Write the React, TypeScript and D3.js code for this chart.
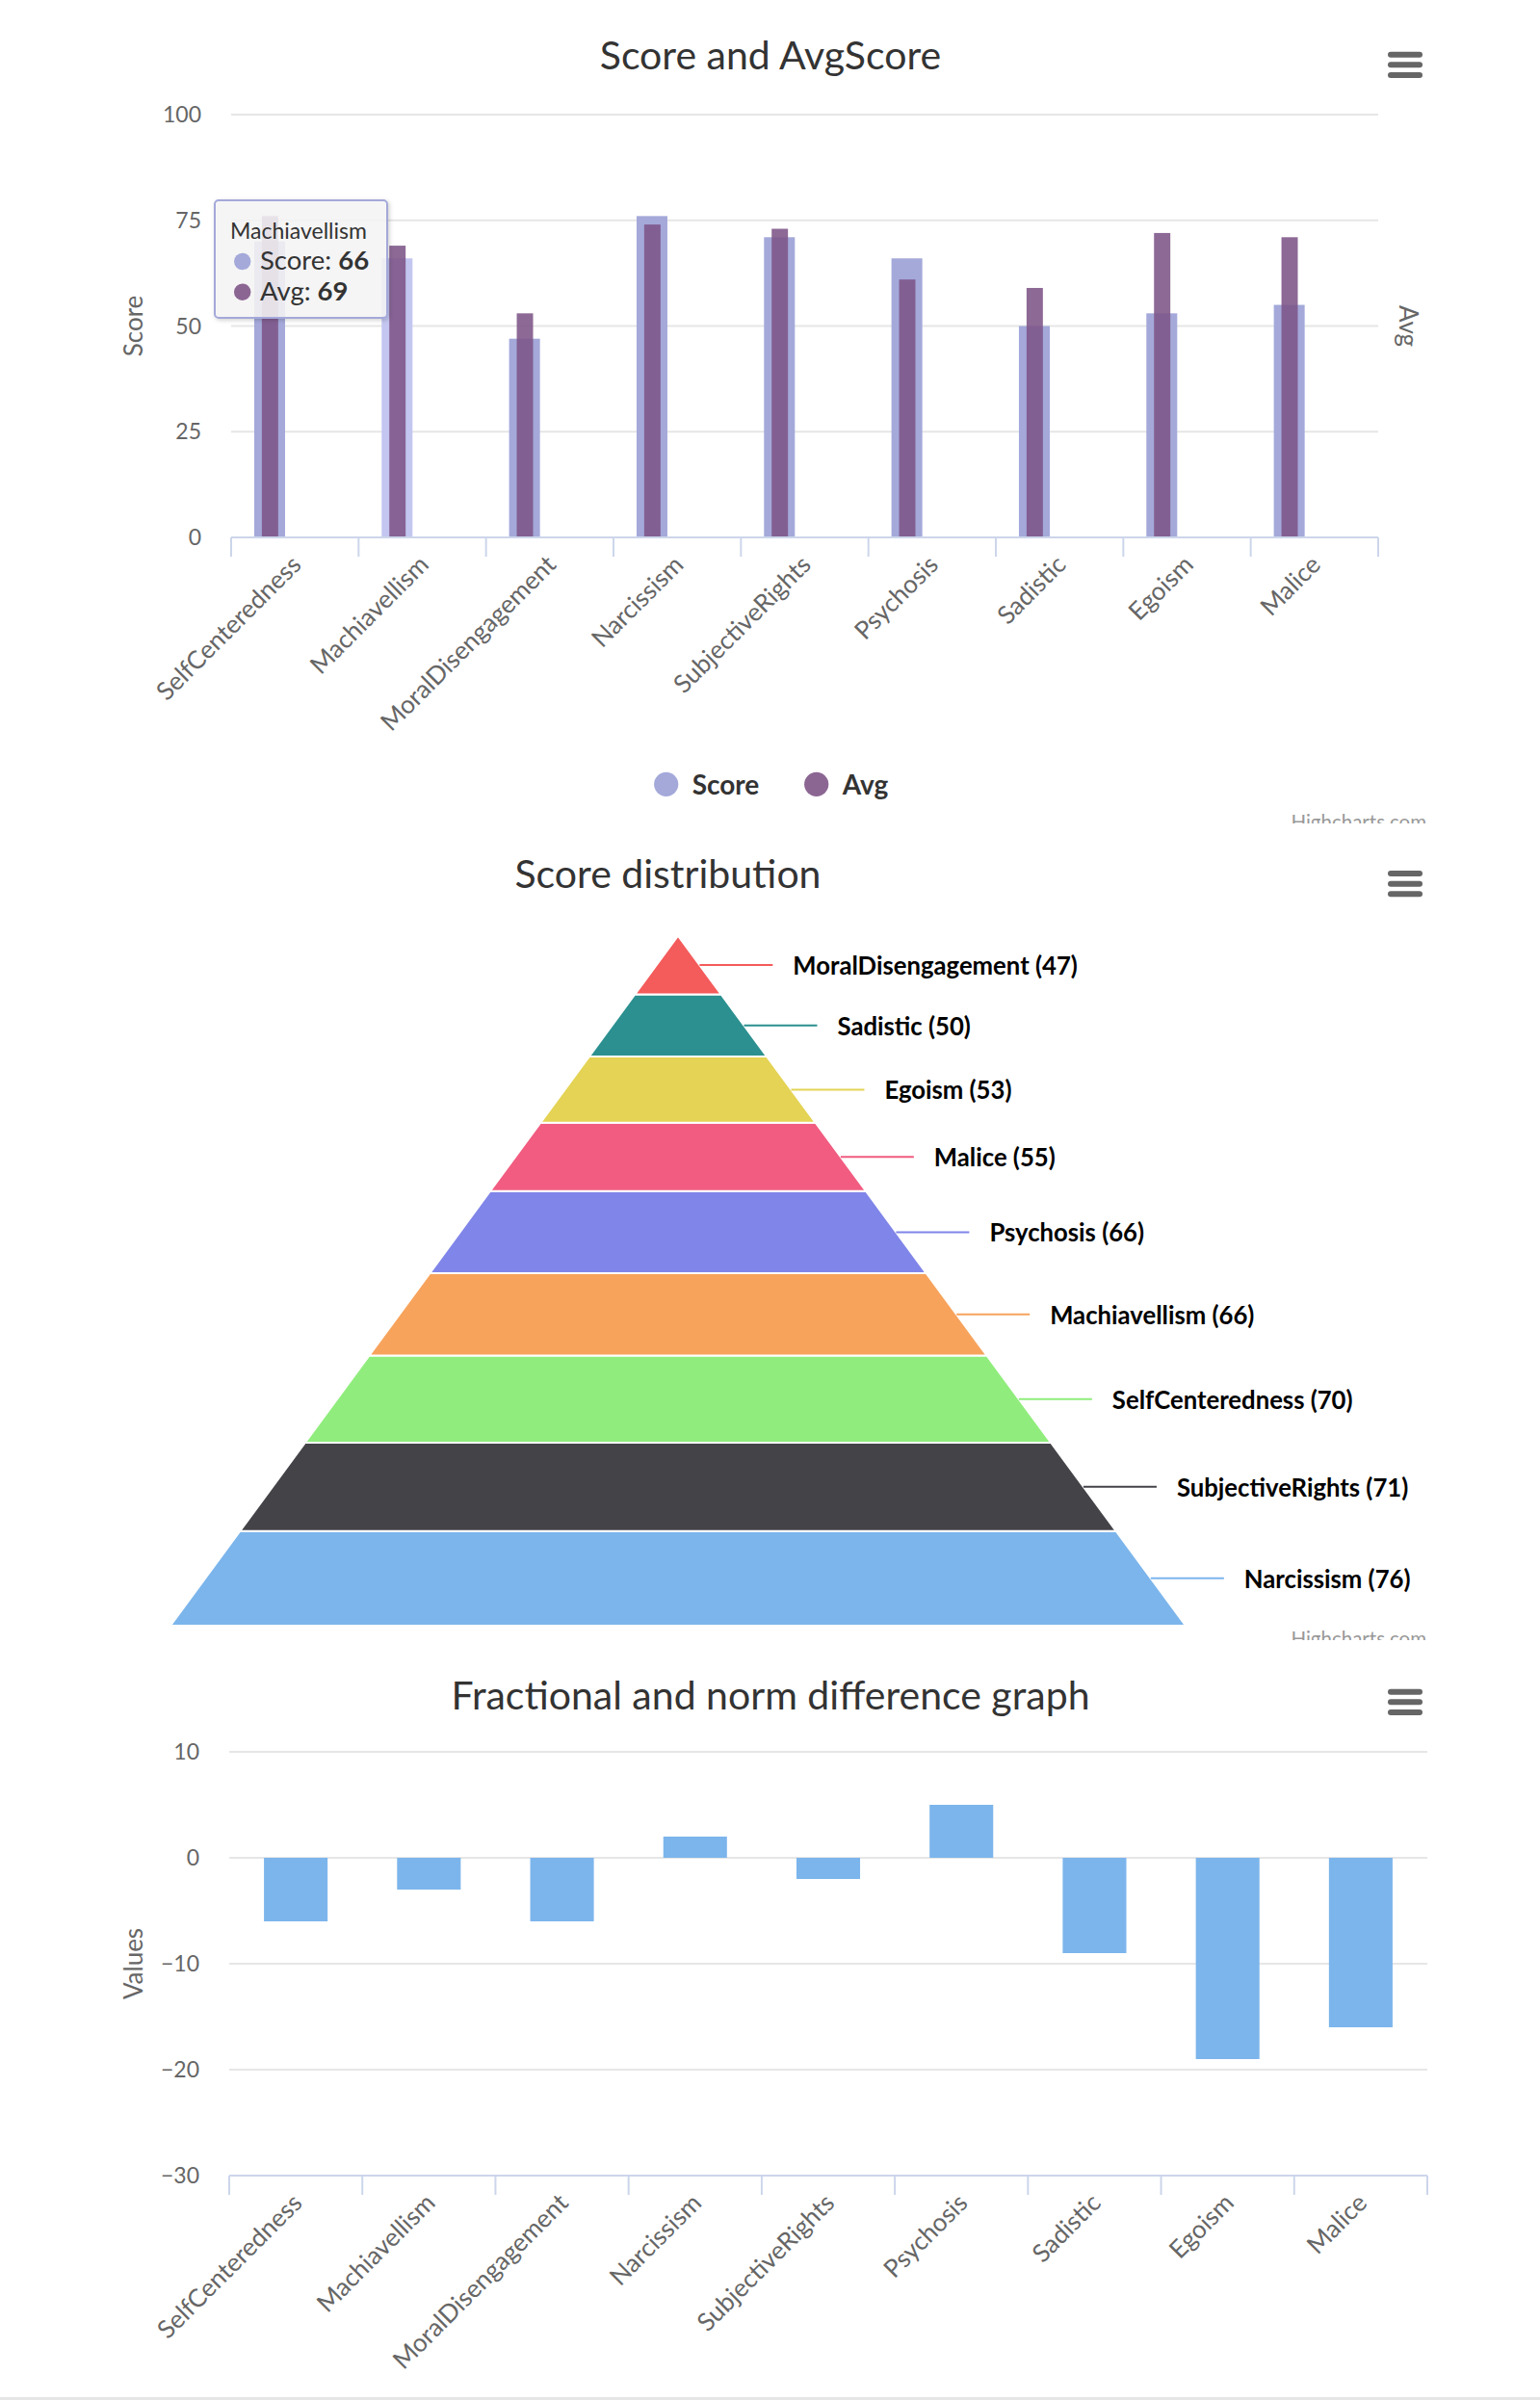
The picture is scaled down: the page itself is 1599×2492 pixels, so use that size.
import { useEffect, useRef } from 'react';
import * as d3 from 'd3';

const categories = [
  'SelfCenteredness',
  'Machiavellism',
  'MoralDisengagement',
  'Narcissism',
  'SubjectiveRights',
  'Psychosis',
  'Sadistic',
  'Egoism',
  'Malice',
];
const scoreValues = [70, 66, 47, 76, 71, 66, 50, 53, 55];
const avgValues = [76, 69, 53, 74, 73, 61, 59, 72, 71];
const diffValues = [-6, -3, -6, 2, -2, 5, -9, -19, -16];
const scoreTicks = [0, 25, 50, 75, 100];
const diffTicks = [-30, -20, -10, 0, 10];
const pyramidPalette = ['#7cb5ec', '#434348', '#90ed7d', '#f7a35c', '#8085e9', '#f15c80', '#e4d354', '#2b908f', '#f45b5b'];
const hoveredCategory = 'Machiavellism';

const FONT = 'Lato, "Open Sans", sans-serif';
const SCORE_COLOR = '#a4a9da';
const SCORE_HOVER = '#c3c6f0';
const AVG_COLOR = '#7d5487';
const AVG_LEGEND = '#8c6693';

type G = d3.Selection<SVGGElement, unknown, null, undefined>;

function drawTitle(g: G, text: string, x: number, y: number) {
  g.append('text')
    .attr('x', x)
    .attr('y', y)
    .attr('text-anchor', 'middle')
    .attr('font-size', 41)
    .attr('fill', '#333333')
    .text(text);
}

function drawMenu(g: G, cy: number) {
  g.append('g')
    .selectAll('line')
    .data([-10.6, 0, 10.6])
    .join('line')
    .attr('x1', 1444)
    .attr('x2', 1474)
    .attr('y1', (d) => cy + d)
    .attr('y2', (d) => cy + d)
    .attr('stroke', '#666666')
    .attr('stroke-width', 6)
    .attr('stroke-linecap', 'round');
}

function drawCredits(g: G, y: number, clipId: string) {
  g.append('text')
    .attr('x', 1481)
    .attr('y', y)
    .attr('text-anchor', 'end')
    .attr('font-size', 20.5)
    .attr('fill', '#999999')
    .attr('clip-path', `url(#${clipId})`)
    .text('Highcharts.com');
}

function drawCategoryAxis(g: G, x: d3.ScaleBand<string>, axisY: number) {
  const [x0, x1] = x.range();
  g.append('line')
    .attr('x1', x0)
    .attr('x2', x1)
    .attr('y1', axisY)
    .attr('y2', axisY)
    .attr('stroke', '#ccd6eb')
    .attr('stroke-width', 2);

  const bounds = [...categories.map((c) => x(c) as number), x1];
  g.append('g')
    .selectAll('line')
    .data(bounds)
    .join('line')
    .attr('x1', (d) => d)
    .attr('x2', (d) => d)
    .attr('y1', axisY)
    .attr('y2', axisY + 20)
    .attr('stroke', '#ccd6eb')
    .attr('stroke-width', 2);

  g.append('g')
    .selectAll('text')
    .data(categories)
    .join('text')
    .attr('transform', (d) => `translate(${(x(d) as number) + x.bandwidth() / 2 + 8},${axisY + 30}) rotate(-45)`)
    .attr('text-anchor', 'end')
    .attr('font-size', 26)
    .attr('fill', '#666666')
    .text((d) => d);
}

function drawValueAxis(g: G, y: d3.ScaleLinear<number, number>, ticks: number[], x0: number, x1: number, labelX: number) {
  g.append('g')
    .selectAll('line')
    .data(ticks)
    .join('line')
    .attr('x1', x0)
    .attr('x2', x1)
    .attr('y1', (d) => y(d))
    .attr('y2', (d) => y(d))
    .attr('stroke', '#e6e6e6')
    .attr('stroke-width', 2);

  g.append('g')
    .selectAll('text')
    .data(ticks)
    .join('text')
    .attr('x', labelX)
    .attr('y', (d) => y(d))
    .attr('dy', '0.35em')
    .attr('text-anchor', 'end')
    .attr('font-size', 23)
    .attr('fill', '#666666')
    .text((d) => (d < 0 ? `−${Math.abs(d)}` : `${d}`));
}

function drawAxisTitle(g: G, text: string, x: number, y: number, angle: number) {
  g.append('text')
    .attr('transform', `translate(${x},${y}) rotate(${angle})`)
    .attr('text-anchor', 'middle')
    .attr('dominant-baseline', 'central')
    .attr('font-size', 26)
    .attr('fill', '#666666')
    .text(text);
}

function drawScoreChart(g: G) {
  const x = d3.scaleBand<string>().domain(categories).range([240, 1431]);
  const y = d3.scaleLinear().domain([0, 100]).range([558, 119]);
  const bw = x.bandwidth();
  const rows = categories.map((c, i) => ({ c, score: scoreValues[i], avg: avgValues[i] }));

  drawTitle(g, 'Score and AvgScore', 800, 72);
  drawMenu(g, 67.3);
  drawValueAxis(g, y, scoreTicks, 240, 1431, 209);

  // Score 柱
  g.append('g')
    .selectAll('rect')
    .data(rows)
    .join('rect')
    .attr('x', (d) => (x(d.c) as number) + bw * 0.302 - bw * 0.121)
    .attr('width', bw * 0.242)
    .attr('y', (d) => y(d.score))
    .attr('height', (d) => y(0) - y(d.score))
    .attr('fill', (d) => (d.c === hoveredCategory ? SCORE_HOVER : SCORE_COLOR));

  // Avg 柱（半透明叠加）
  g.append('g')
    .selectAll('rect')
    .data(rows)
    .join('rect')
    .attr('x', (d) => (x(d.c) as number) + bw * 0.305 - bw * 0.064)
    .attr('width', bw * 0.128)
    .attr('y', (d) => y(d.avg))
    .attr('height', (d) => y(0) - y(d.avg))
    .attr('fill', AVG_COLOR)
    .attr('fill-opacity', 0.88);

  drawCategoryAxis(g, x, y(0));
  drawAxisTitle(g, 'Score', 138, (y(0) + y(100)) / 2, -90);
  drawAxisTitle(g, 'Avg', 1463, (y(0) + y(100)) / 2, 90);

  // 图例
  const legend = g.append('g').attr('font-size', 28).attr('font-weight', 700).attr('fill', '#333333');
  const items = [
    { name: 'Score', color: SCORE_COLOR, cx: 691.7 },
    { name: 'Avg', color: AVG_LEGEND, cx: 847.7 },
  ];
  items.forEach((it) => {
    legend.append('circle').attr('cx', it.cx).attr('cy', 814.3).attr('r', 12.6).attr('fill', it.color);
    legend.append('text').attr('x', it.cx + 27).attr('y', 824.5).text(it.name);
  });

  // 提示框
  const idx = categories.indexOf(hoveredCategory);
  const tip = g.append('g').attr('font-size', 27.5).attr('fill', '#333333');
  tip.append('rect')
    .attr('x', 223)
    .attr('y', 208)
    .attr('width', 179)
    .attr('height', 122)
    .attr('rx', 4)
    .attr('fill', 'rgba(247,247,247,0.85)')
    .attr('stroke', SCORE_COLOR)
    .attr('stroke-width', 2)
    .attr('filter', 'url(#tip-shadow)');
  tip.append('text').attr('x', 239).attr('y', 248).attr('font-size', 23).text(hoveredCategory);
  const tipRows = [
    { name: 'Score', value: scoreValues[idx], color: SCORE_COLOR, y: 280 },
    { name: 'Avg', value: avgValues[idx], color: AVG_LEGEND, y: 311.7 },
  ];
  tipRows.forEach((r) => {
    tip.append('circle').attr('cx', 251.7).attr('cy', r.y - 8.5).attr('r', 8.7).attr('fill', r.color);
    const t = tip.append('text').attr('x', 270).attr('y', r.y);
    t.append('tspan').text(`${r.name}: `);
    t.append('tspan').attr('font-weight', 700).text(r.value);
  });

  drawCredits(g, 861, 'clip-c1');
}

function drawPyramid(g: G) {
  const apexY = 971.7;
  const baseY = 1688;
  const cx = 704;
  const pts = categories
    .map((name, i) => ({ name, value: scoreValues[i], i }))
    .sort((a, b) => b.value - a.value || a.i - b.i)
    .map((d, k) => ({ ...d, color: pyramidPalette[k] }));
  const total = d3.sum(pts, (d) => d.value);
  const cum = d3.scaleLinear().domain([0, total]).range([baseY, apexY]);
  const half = d3.scaleLinear().domain([apexY, baseY]).range([0, 527]);

  drawTitle(g, 'Score distribution', 693.5, 922);
  drawMenu(g, 917.7);

  let acc = 0;
  const slices = pts.map((d) => {
    const yBottom = cum(acc);
    acc += d.value;
    const yTop = cum(acc);
    return { ...d, yBottom, yTop };
  });

  g.append('g')
    .selectAll('path')
    .data(slices)
    .join('path')
    .attr('d', (d) => {
      const p = d3.path();
      p.moveTo(cx - half(d.yTop), d.yTop);
      p.lineTo(cx + half(d.yTop), d.yTop);
      p.lineTo(cx + half(d.yBottom), d.yBottom);
      p.lineTo(cx - half(d.yBottom), d.yBottom);
      p.closePath();
      return p.toString();
    })
    .attr('fill', (d) => d.color)
    .attr('stroke', '#ffffff')
    .attr('stroke-width', 2);

  const labels = g.append('g');
  slices.forEach((d) => {
    const my = (d.yTop + d.yBottom) / 2;
    const ex = cx + half(my);
    labels.append('line')
      .attr('x1', ex)
      .attr('x2', ex + 76)
      .attr('y1', my)
      .attr('y2', my)
      .attr('stroke', d.color)
      .attr('stroke-width', 2);
    labels.append('text')
      .attr('x', ex + 97)
      .attr('y', my)
      .attr('dominant-baseline', 'central')
      .attr('font-size', 25.7)
      .attr('font-weight', 700)
      .attr('fill', '#000000')
      .text(`${d.name} (${d.value})`);
  });

  drawCredits(g, 1709, 'clip-c2');
}

function drawDiffChart(g: G) {
  const x = d3.scaleBand<string>().domain(categories).range([238, 1482]);
  const y = d3.scaleLinear().domain([-30, 10]).range([2259, 1819]);
  const bw = x.bandwidth();

  drawTitle(g, 'Fractional and norm difference graph', 800, 1775);
  drawMenu(g, 1767.3);
  drawValueAxis(g, y, diffTicks, 238, 1482, 207);

  g.append('g')
    .selectAll('rect')
    .data(diffValues)
    .join('rect')
    .attr('x', (_, i) => (x(categories[i]) as number) + bw * 0.261)
    .attr('width', bw * 0.478)
    .attr('y', (d) => y(Math.max(0, d)))
    .attr('height', (d) => Math.abs(y(d) - y(0)))
    .attr('fill', '#7cb5ec');

  drawCategoryAxis(g, x, y(-30));
  drawAxisTitle(g, 'Values', 138, (y(-30) + y(10)) / 2, -90);
}

export default function App() {
  const svgRef = useRef<SVGSVGElement>(null);

  useEffect(() => {
    if (!svgRef.current) return;
    const svg = d3.select(svgRef.current);
    svg.selectAll('*').remove();

    const defs = svg.append('defs');
    const f = defs.append('filter').attr('id', 'tip-shadow').attr('x', '-20%').attr('y', '-20%').attr('width', '140%').attr('height', '140%');
    f.append('feDropShadow').attr('dx', 1.5).attr('dy', 1.5).attr('stdDeviation', 2).attr('flood-color', '#000').attr('flood-opacity', 0.2);
    defs.append('clipPath').attr('id', 'clip-c1').append('rect').attr('x', 0).attr('y', 0).attr('width', 1599).attr('height', 855);
    defs.append('clipPath').attr('id', 'clip-c2').append('rect').attr('x', 0).attr('y', 855).attr('width', 1599).attr('height', 848);

    const root = svg.append('g').attr('font-family', FONT) as G;
    drawScoreChart(root.append('g'));
    drawPyramid(root.append('g'));
    drawDiffChart(root.append('g'));

    root.append('rect').attr('x', 0).attr('y', 2489).attr('width', 1599).attr('height', 3).attr('fill', '#e6e6e6');
  }, []);

  return (
    <div style={{ position: 'absolute', left: 0, top: 0 }}>
      <svg ref={svgRef} width={1599} height={2492} style={{ display: 'block', background: '#ffffff' }} />
    </div>
  );
}
